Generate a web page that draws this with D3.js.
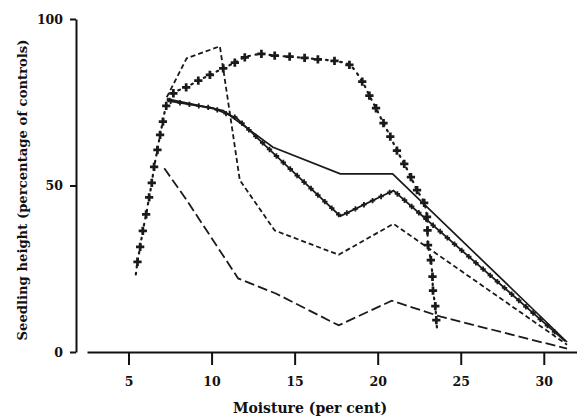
<!DOCTYPE html>
<html>
<head>
<meta charset="utf-8">
<script src="https://cdn.jsdelivr.net/npm/d3@7/dist/d3.min.js"></script>
<style>
  body { margin: 0; background: #fff; }
  svg text { font-family: "DejaVu Serif", serif; font-weight: bold; fill: #111; }
</style>
</head>
<body>
<div id="chart"></div>
<script>
var xTicks = [5, 10, 15, 20, 25, 30];
var yTicks = [0, 50, 100];

// solid line
var solidX = [7.3, 10.7, 13.7, 17.75, 20.9, 31.4];
var solidY = [76, 72.5, 61.5, 53.5, 53.5, 3];

// solid line with small crosses
var crossLineX = [7.3, 10.1, 11.5, 13.3, 17.75, 20.95, 31.3];
var crossLineY = [75.5, 73.2, 70.3, 61.7, 40.8, 48.5, 3.2];

// short dashes
var dashX = [7.3, 8.5, 10.5, 11.7, 13.8, 17.65, 20.95, 31.4];
var dashY = [76.5, 88.2, 91.8, 51.6, 36.5, 29.2, 38.5, 2.2];

// long dashes
var longX = [7.15, 8.5, 11.6, 13.9, 17.65, 20.85, 23.8, 31.4];
var longY = [55.2, 45.6, 22.1, 17.5, 8, 15.4, 10.6, 1];

// dotted curve with big crosses (first and last are the line ends)
var arcX = [5.44, 5.54, 5.7, 5.86, 6.06, 6.24, 6.4, 6.54, 6.74, 6.9, 7.07, 7.27, 7.7, 8.47, 9.2, 9.9,
  10.7, 11.4, 12.0, 13.0, 13.8, 14.7, 15.6, 16.4, 17.4, 18.3, 19.07, 19.5, 19.9, 20.35, 20.76,
  21.16, 21.6, 22.0, 22.37, 22.8, 22.97, 23.0, 23.03, 23.2, 23.3, 23.33, 23.47, 23.53, 23.57];
var arcY = [23.3, 27.1, 31.6, 36.4, 41.3, 46.4, 50.8, 55.6, 60.7, 65.2, 69.2, 73.9, 77.7, 79.5, 81.5, 83.2,
  85.2, 86.9, 88.5, 89.5, 89, 88.7, 88.3, 87.9, 87.4, 86.2, 81.2, 77, 73.2, 68.7, 64.7,
  60.5, 56.5, 52.5, 48.6, 44.8, 40.6, 36.5, 32.1, 27.6, 22.6, 18.4, 13.8, 9.6, 7.1];

var W = 577, H = 417;
var svg = d3.select("#chart").append("svg").attr("width", W).attr("height", H);

var x = d3.scaleLinear().domain([2.5, 32]).range([87, 577]);
var y = d3.scaleLinear().domain([0, 100]).range([352, 19]);

function pts(xs, ys) {
  return xs.map(function (v, i) { return [v, ys[i]]; });
}
var line = d3.line().x(function (d) { return x(d[0]); }).y(function (d) { return y(d[1]); });

// axes
var gx = svg.append("g").attr("transform", "translate(0," + y(0) + ")")
  .call(d3.axisBottom(x).tickValues(xTicks).tickSize(13).tickSizeOuter(0).tickPadding(12));
gx.selectAll("text").attr("font-size", 12.5);

var gy = svg.append("g").attr("transform", "translate(76,0)")
  .call(d3.axisLeft(y).tickValues(yTicks).tickSize(6).tickSizeOuter(0).tickPadding(7));
gy.selectAll("text").attr("font-size", 12.5);

svg.selectAll(".domain, .tick line").attr("stroke", "#111").attr("stroke-width", 2);

svg.append("text").attr("x", 310).attr("y", 413).attr("text-anchor", "middle")
  .attr("font-size", 14).text("Moisture (per cent)");
svg.append("text").attr("transform", "translate(27,190) rotate(-90)").attr("text-anchor", "middle")
  .attr("font-size", 13.2).text("Seedling height (percentage of controls)");

// series
var plot = svg.append("g").attr("fill", "none").attr("stroke", "#1a1a1a");

plot.append("path").datum(pts(solidX, solidY)).attr("d", line).attr("stroke-width", 1.7);

var cl = plot.append("path").datum(pts(crossLineX, crossLineY)).attr("d", line).attr("stroke-width", 1.8);

plot.append("path").datum(pts(dashX, dashY)).attr("d", line)
  .attr("stroke-width", 1.8).attr("stroke-dasharray", "5,3");

plot.append("path").datum(pts(longX, longY)).attr("d", line)
  .attr("stroke-width", 1.8).attr("stroke-dasharray", "10,4");

var arc = pts(arcX, arcY);
plot.append("path").datum(arc).attr("d", line.curve(d3.curveCatmullRom))
  .attr("stroke-width", 2.2).attr("stroke-dasharray", "1.6,5.5").attr("stroke-linecap", "round");
line.curve(d3.curveLinear);

var cross = d3.symbol().type(d3.symbolCross);
svg.append("g").attr("fill", "#1a1a1a").selectAll("path").data(arc.slice(1, -1)).join("path")
  .attr("transform", function (d) { return "translate(" + x(d[0]) + "," + y(d[1]) + ")"; })
  .attr("d", cross.size(38));

// small crosses along the crossed solid line
var node = cl.node(), len = node.getTotalLength(), marks = [];
for (var s = 4; s < len - 6; s += 9.5) marks.push(node.getPointAtLength(s));
svg.append("g").attr("fill", "#1a1a1a").selectAll("path").data(marks).join("path")
  .attr("transform", function (p) { return "translate(" + p.x + "," + p.y + ")"; })
  .attr("d", cross.size(16));
</script>
</body>
</html>
